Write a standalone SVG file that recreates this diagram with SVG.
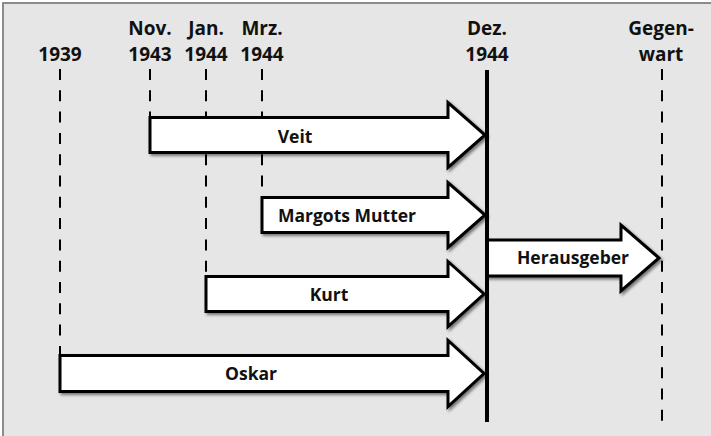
<svg xmlns="http://www.w3.org/2000/svg" width="711" height="436" viewBox="0 0 711 436">
  <style>
    .hdr { font-family: "Open Sans", "Liberation Sans", sans-serif; font-weight: bold; font-size: 19px; fill: #111; text-anchor: middle; }
    .lbl { font-family: "Open Sans", "Liberation Sans", sans-serif; font-weight: bold; font-size: 17.5px; fill: #111; text-anchor: middle; }
    .arrow { fill: #ffffff; stroke: #000000; stroke-width: 3; stroke-linejoin: miter; filter: url(#shadow); }
    .dash { stroke: #000000; stroke-width: 2; stroke-dasharray: 11 10.3; fill: none; }
    .solid { stroke: #000000; stroke-width: 4; fill: none; }
  </style>
  <defs>
    <filter id="shadow" x="-10%" y="-30%" width="120%" height="160%">
      <feGaussianBlur in="SourceAlpha" stdDeviation="1.5"/>
      <feOffset dx="1.5" dy="1.5" result="b"/>
      <feComponentTransfer><feFuncA type="linear" slope="0.5"/></feComponentTransfer>
      <feMerge><feMergeNode/><feMergeNode in="SourceGraphic"/></feMerge>
    </filter>
  </defs>
  <rect x="0" y="0" width="711" height="436" fill="#ffffff"/>
  <rect x="3" y="3" width="740" height="460" fill="#e6e6e6" stroke="#808080" stroke-width="1.8"/>

  <g id="headers">
    <text class="hdr" x="60" y="60.5">1939</text>
    <text class="hdr" x="150" y="34.5">Nov.</text>
    <text class="hdr" x="150" y="60.5">1943</text>
    <text class="hdr" x="206" y="34.5">Jan.</text>
    <text class="hdr" x="206" y="60.5">1944</text>
    <text class="hdr" x="262" y="34.5">Mrz.</text>
    <text class="hdr" x="262" y="60.5">1944</text>
    <text class="hdr" x="487" y="34.5">Dez.</text>
    <text class="hdr" x="487" y="60.5">1944</text>
    <text class="hdr" x="661" y="34.5">Gegen-</text>
    <text class="hdr" x="661" y="60.5">wart</text>
  </g>

  <g id="connectors">
    <line class="dash" x1="60" y1="69" x2="60" y2="356"/>
    <line class="dash" x1="150" y1="69" x2="150" y2="118"/>
    <line class="dash" x1="206" y1="69" x2="206" y2="277"/>
    <line class="dash" x1="262" y1="69" x2="262" y2="197"/>
    <line class="dash" x1="662" y1="69" x2="662" y2="421"/>
  </g>

  <g id="veit">
    <path class="arrow" d="M150,117.5 H448 V102.5 L485,135 L448,167.5 V152.5 H150 Z"/>
    <text class="lbl" x="295" y="142.5">Veit</text>
  </g>
  <g id="margots-mutter">
    <path class="arrow" d="M262,197.5 H448 V182.5 L485,215 L448,247.5 V232.5 H262 Z"/>
    <text class="lbl" x="347" y="221.5">Margots Mutter</text>
  </g>
  <g id="kurt">
    <path class="arrow" d="M206,276.5 H448 V261.5 L484,294 L448,326.5 V311.5 H206 Z"/>
    <text class="lbl" x="329" y="300.5">Kurt</text>
  </g>
  <g id="oskar">
    <path class="arrow" d="M60,355.5 H448 V340.5 L484,373.5 L448,406.5 V391.5 H60 Z"/>
    <text class="lbl" x="251" y="379.5">Oskar</text>
  </g>
  <g id="herausgeber">
    <path class="arrow" d="M487,240 H621 V225 L659,258 L621,291 V276 H487 Z"/>
    <text class="lbl" x="573" y="263.5">Herausgeber</text>
  </g>

  <g id="dez-1944-line">
    <line class="solid" x1="487" y1="70" x2="487" y2="422"/>
  </g>
</svg>
